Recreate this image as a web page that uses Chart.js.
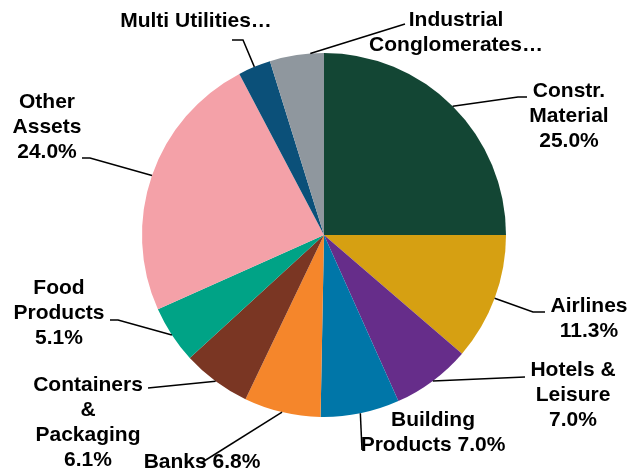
<!DOCTYPE html>
<html>
<head>
<meta charset="utf-8">
<script src="https://cdn.jsdelivr.net/npm/chart.js@4"></script>
<style>
html,body{margin:0;padding:0;background:#fff;}
#wrap{width:637px;height:470px;position:relative;}
</style>
</head>
<body>
<div id="wrap"><canvas id="c"></canvas></div>
<script>
const categories = ['Constr. Material','Airlines','Hotels & Leisure','Building Products','Banks','Containers & Packaging','Food Products','Other Assets','Multi Utilities','Industrial Conglomerates'];
const values = [25.0, 11.3, 7.0, 7.0, 6.8, 6.1, 5.1, 24.0, 2.9, 4.8];
const colors = ['#134634','#D6A012','#662D8A','#0076A8','#F5862B','#7A3623','#00A386','#F4A1A8','#0B5079','#8F979E'];
const labelLines = [
  ['Constr.','Material','{v}'],
  ['Airlines','{v}'],
  ['Hotels &','Leisure','{v}'],
  ['Building','Products {v}'],
  ['Banks {v}'],
  ['Containers','&','Packaging','{v}'],
  ['Food','Products','{v}'],
  ['Other','Assets','{v}'],
  ['Multi Utilities\u2026'],
  ['Industrial','Conglomerates\u2026']
];

// label layout: text centre x, first line y, leader path points, anchor fraction within slice
const layout = [
  {x:569, y:91,  path:[[518,97],[527,97]], f:0.5},
  {x:589, y:306, path:[[533,312],[545,312]], f:0.5},
  {x:573, y:370, path:[[525,377]], f:0.5},
  {x:433, y:420, path:[[362,450]], f:0.5},
  {x:202, y:462, path:[[201,463]], f:0.5},
  {x:88,  y:385, path:[[148,388]], f:0.5},
  {x:59,  y:288, path:[[118,320],[110,320]], f:0.5},
  {x:47,  y:102, path:[[90,158],[82,158]], f:0.5},
  {x:196, y:21,  path:[[243,40],[232,40]], f:0.5},
  {x:456, y:20,  path:[[405,24]], f:0.75}
];
const lineH = 25;

const labelPlugin = {
  id:'outLabels',
  afterDatasetsDraw(chart){
    const ctx = chart.ctx;
    const meta = chart.getDatasetMeta(0);
    ctx.save();
    meta.data.forEach((arc, i) => {
      const L = layout[i];
      const p = arc.getProps(['x','y','startAngle','endAngle','outerRadius'], true);
      const a = p.startAngle + L.f*(p.endAngle - p.startAngle);
      const sx = p.x + Math.cos(a)*p.outerRadius;
      const sy = p.y + Math.sin(a)*p.outerRadius;
      ctx.strokeStyle = '#000';
      ctx.lineWidth = 1.5;
      ctx.beginPath();
      ctx.moveTo(sx, sy);
      L.path.forEach(pt => ctx.lineTo(pt[0], pt[1]));
      ctx.stroke();
      ctx.fillStyle = '#000';
      ctx.font = 'bold 21px "Liberation Sans", Arial, sans-serif';
      ctx.textAlign = 'center';
      ctx.textBaseline = 'middle';
      const v = values[i].toFixed(1) + '%';
      labelLines[i].forEach((t, k) => {
        ctx.fillText(t.replace('{v}', v), L.x, L.y + k*lineH);
      });
    });
    ctx.restore();
  }
};

new Chart(document.getElementById('c'), {
  type:'pie',
  data:{
    labels:categories,
    datasets:[{data:values, backgroundColor:colors, borderWidth:0}]
  },
  options:{
    responsive:true,
    maintainAspectRatio:false,
    animation:false,
    layout:{padding:{left:142, right:131, top:53, bottom:53}},
    plugins:{legend:{display:false}, tooltip:{enabled:false}}
  },
  plugins:[labelPlugin]
});
</script>
</body>
</html>
